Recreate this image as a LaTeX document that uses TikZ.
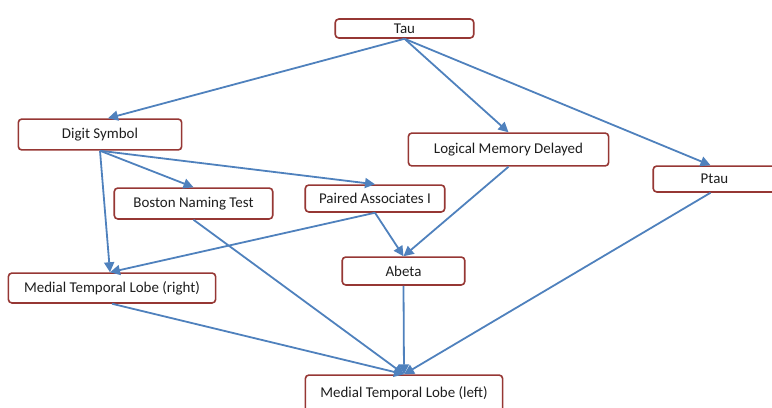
\documentclass[tikz,border=0pt]{standalone}
\usepackage{fontspec}
\setmainfont{Carlito}
\usetikzlibrary{arrows.meta}
\definecolor{boxred}{RGB}{150,55,52}
\definecolor{lineblue}{RGB}{79,129,189}
\definecolor{txt}{RGB}{30,30,30}
\begin{document}
\begin{tikzpicture}[x=1bp,y=-1bp,
  box/.style={draw=boxred,line width=1.6bp,rounded corners=3.5bp,fill=white,
    inner sep=0pt,font=\fontsize{15}{17}\selectfont,text=txt},
  link/.style={draw=lineblue,line width=1.8bp,-{Triangle[length=10bp,width=10bp]}}]
\useasboundingbox (0,0) rectangle (772,407);
\newcommand{\bx}[6]{\node[box,minimum width=#4-#2,minimum height=#5-#3] (#1) at ({(#2+#4)/2},{(#3+#5)/2}) {#6};}
\bx{tau}{335}{19}{474}{38}{Tau}
\bx{digit}{18}{119}{182}{150}{Digit Symbol}
\bx{lmd}{408}{133}{609}{166}{Logical Memory Delayed}
\bx{ptau}{653}{166}{776}{192}{Ptau}
\bx{bnt}{114}{188}{273}{219}{Boston Naming Test}
\bx{pai}{305}{185}{445}{212}{Paired Associates I}
\bx{abeta}{342}{257}{465}{285}{Abeta}
\bx{mtlr}{8}{273}{216}{303}{Medial Temporal Lobe (right)}
\bx{mtll}{305}{375}{503}{412}{Medial Temporal Lobe (left)}
\draw[link] (tau.south) -- ([xshift=8bp]digit.north);
\draw[link] (tau.south) -- (lmd.north);
\draw[link] (tau.south) -- ([xshift=-4bp]ptau.north);
\draw[link] (digit.south) -- (bnt.north);
\draw[link] (digit.south) -- ([xshift=0bp]pai.north);
\draw[link] (digit.south) -- ([xshift=-2bp]mtlr.north);
\draw[link] (pai.south) -- ([xshift=-2bp]mtlr.north);
\draw[link] (pai.south) -- (abeta.north);
\draw[link] (lmd.south) -- (abeta.north);
\draw[link] (bnt.south) -- (mtll.north);
\draw[link] (mtlr.south) -- (mtll.north);
\draw[link] (abeta.south) -- (mtll.north);
\draw[link] ([xshift=-4bp]ptau.south) -- (mtll.north);
\end{tikzpicture}
\end{document}
